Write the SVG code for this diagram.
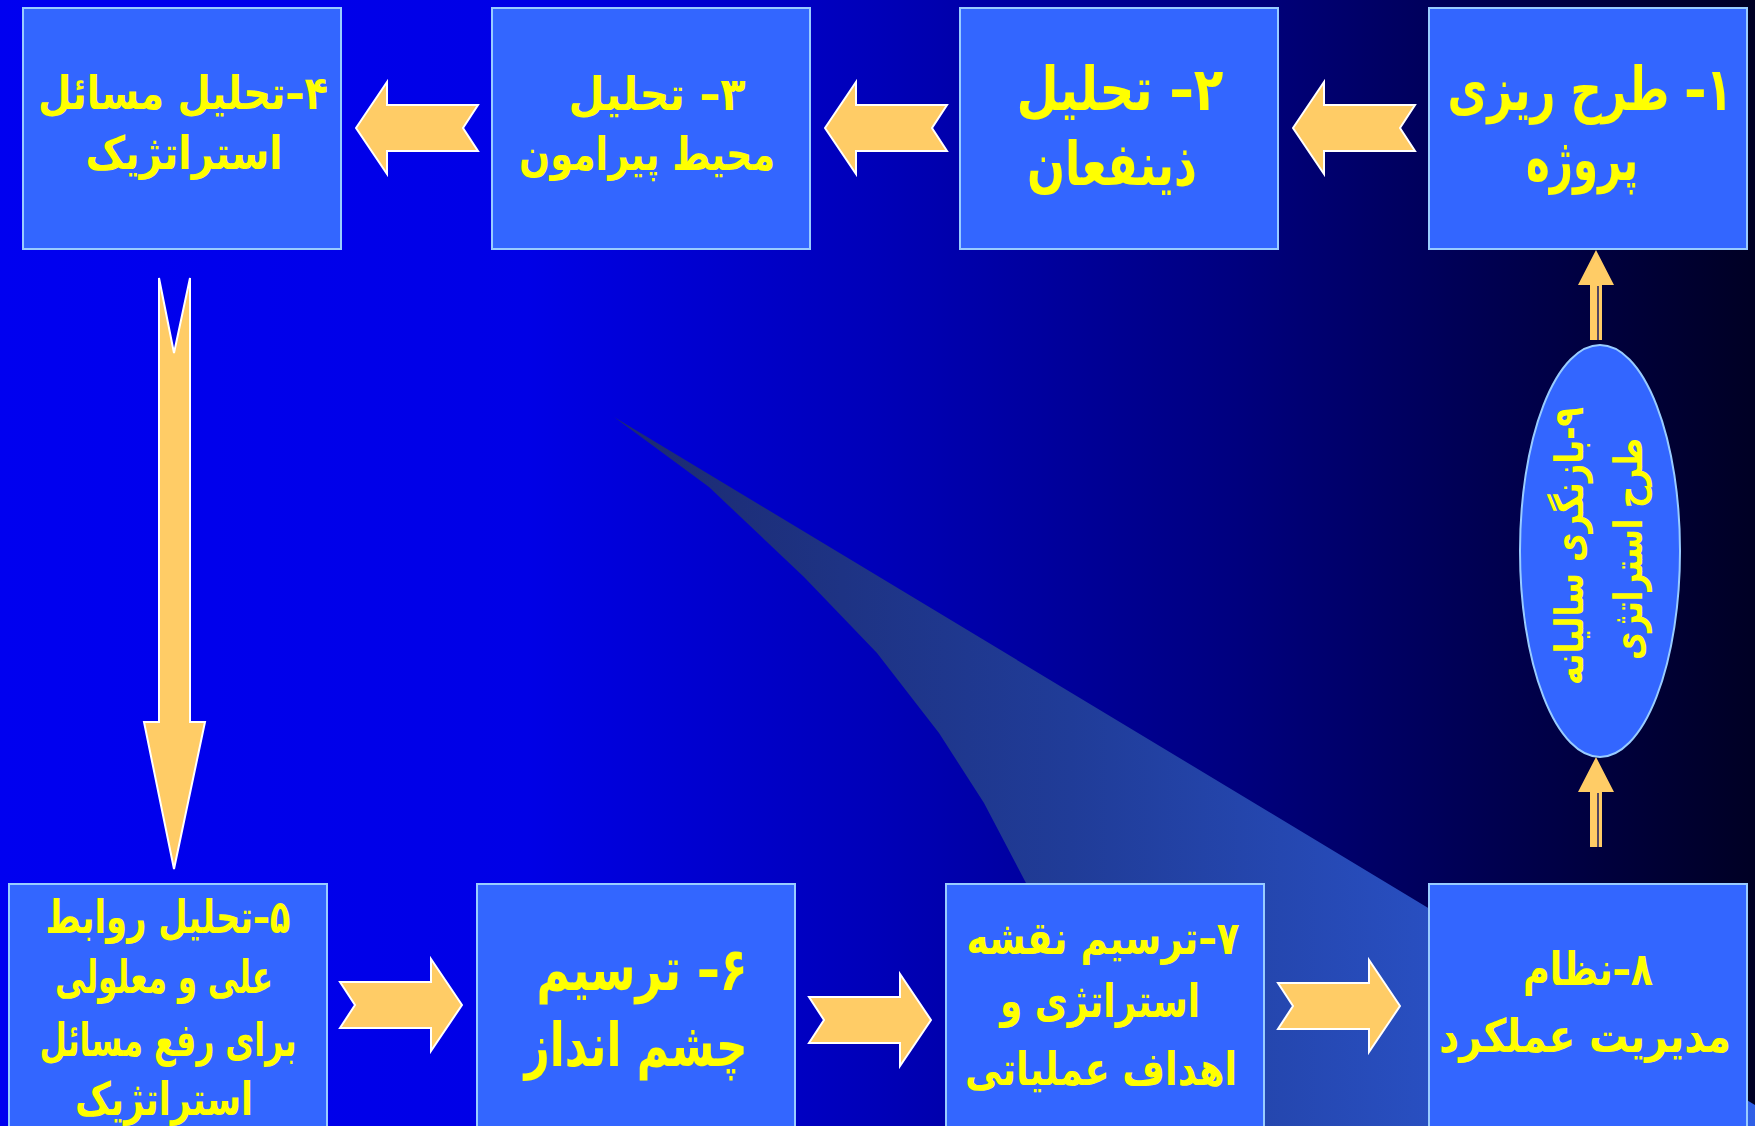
<svg xmlns="http://www.w3.org/2000/svg" width="1755" height="1126" viewBox="0 0 1755 1126">
<defs>
<linearGradient id="bg" x1="0" y1="0" x2="1755" y2="0" gradientUnits="userSpaceOnUse">
<stop offset="0" stop-color="#0000F0"/>
<stop offset="0.3" stop-color="#0000E6"/>
<stop offset="0.5" stop-color="#0000B8"/>
<stop offset="0.7" stop-color="#000080"/>
<stop offset="0.85" stop-color="#000050"/>
<stop offset="1" stop-color="#000024"/>
</linearGradient>
<linearGradient id="beam" x1="614" y1="0" x2="1755" y2="0" gradientUnits="userSpaceOnUse">
<stop offset="0" stop-color="#1C2A70"/>
<stop offset="0.4" stop-color="#203C98"/>
<stop offset="1" stop-color="#3060E6"/>
</linearGradient>
<polygon id="arrL" points="0,0 31,-46 31,-23 122,-23 107,0 122,23 31,23 31,46"/>
<polygon id="arrR" points="0,0 -31,-46 -31,-23 -122,-23 -107,0 -122,23 -31,23 -31,46"/>
<g id="arrUp">
<polygon points="0,0 18,35 6,35 6,90 -6,90 -6,35 -18,35"/>
<line x1="2" y1="36" x2="2" y2="90" stroke="#1A1A60" stroke-width="1.5"/>
</g>
</defs>
<style>
.box{fill:#3366FF;stroke:#99CCFF;stroke-width:2}
.arrow{fill:#FFCC66;stroke:#FFFFFF;stroke-width:2;stroke-linejoin:miter}
.arrow2{fill:#FFCC66}
.t{font-family:"DejaVu Sans",sans-serif;font-weight:bold;fill:#FFFF00;text-anchor:middle;direction:rtl}
</style>
<rect x="0" y="0" width="1755" height="1126" fill="url(#bg)"/>
<path d="M614,417 L1755,1105 L1755,1126 L1110,1126 L1060,990 L1026,883 L984,803 L939,733 L877,653 L804,577 L709,487 Z" fill="url(#beam)"/>

<g id="connectors">
<use href="#arrL" class="arrow" transform="translate(356,128)"/>
<use href="#arrL" class="arrow" transform="translate(825,128)"/>
<use href="#arrL" class="arrow" transform="translate(1293,128)"/>
<polygon class="arrow" points="159,278 174,353 190,278 190,722 205,722 174,869 144,722 159,722"/>
<use href="#arrR" class="arrow" transform="translate(462,1005)"/>
<use href="#arrR" class="arrow" transform="translate(931,1020)"/>
<use href="#arrR" class="arrow" transform="translate(1400,1006)"/>
<use href="#arrUp" class="arrow2" transform="translate(1596,250)"/>
<use href="#arrUp" class="arrow2" transform="translate(1596,757)"/>
</g>

<g id="n1">
<rect class="box" x="1429" y="8" width="318" height="241"/>
<text class="t" font-size="44" transform="translate(1590,110) scale(1,1.364)" textLength="285" lengthAdjust="spacingAndGlyphs">۱– طرح ریزی</text>
<text class="t" font-size="40" transform="translate(1582,180) scale(1,1.5)" textLength="112" lengthAdjust="spacingAndGlyphs">پروژه</text>
</g>
<g id="n2">
<rect class="box" x="960" y="8" width="318" height="241"/>
<text class="t" font-size="49" transform="translate(1120,110) scale(1,1.224)" textLength="207" lengthAdjust="spacingAndGlyphs">۲– تحلیل</text>
<text class="t" font-size="45" transform="translate(1112,185) scale(1,1.333)" textLength="170" lengthAdjust="spacingAndGlyphs">ذینفعان</text>
</g>
<g id="n3">
<rect class="box" x="492" y="8" width="318" height="241"/>
<text class="t" font-size="42" transform="translate(657,110) scale(1,1.095)" textLength="177" lengthAdjust="spacingAndGlyphs">۳– تحلیل</text>
<text class="t" font-size="37" transform="translate(647,170) scale(1,1.243)" textLength="256" lengthAdjust="spacingAndGlyphs">محیط پیرامون</text>
</g>
<g id="n4">
<rect class="box" x="23" y="8" width="318" height="241"/>
<text class="t" font-size="39" transform="translate(183,109) scale(1,1.18)" textLength="290" lengthAdjust="spacingAndGlyphs">۴–تحلیل مسائل</text>
<text class="t" font-size="39" transform="translate(184,169) scale(1,1.18)" textLength="197" lengthAdjust="spacingAndGlyphs">استراتژیک</text>
</g>
<g id="n5">
<rect class="box" x="9" y="884" width="318" height="260"/>
<text class="t" font-size="34" transform="translate(168,933) scale(1,1.353)" textLength="245" lengthAdjust="spacingAndGlyphs">۵–تحلیل روابط</text>
<text class="t" font-size="32" transform="translate(164,993) scale(1,1.44)" textLength="218" lengthAdjust="spacingAndGlyphs">علی و معلولی</text>
<text class="t" font-size="32" transform="translate(168,1056) scale(1,1.44)" textLength="257" lengthAdjust="spacingAndGlyphs">برای رفع مسائل</text>
<text class="t" font-size="36" transform="translate(164,1115) scale(1,1.28)" textLength="178" lengthAdjust="spacingAndGlyphs">استراتژیک</text>
</g>
<g id="n6">
<rect class="box" x="477" y="884" width="318" height="260"/>
<text class="t" font-size="46" transform="translate(642,990) scale(1,1.304)" textLength="211" lengthAdjust="spacingAndGlyphs">۶– ترسیم</text>
<text class="t" font-size="44" transform="translate(636,1066) scale(1,1.364)" textLength="223" lengthAdjust="spacingAndGlyphs">چشم انداز</text>
</g>
<g id="n7">
<rect class="box" x="946" y="884" width="318" height="260"/>
<text class="t" font-size="37" transform="translate(1103,954) scale(1,1.243)" textLength="273" lengthAdjust="spacingAndGlyphs">۷–ترسیم نقشه</text>
<text class="t" font-size="36" transform="translate(1100,1017) scale(1,1.278)" textLength="200" lengthAdjust="spacingAndGlyphs">استراتژی و</text>
<text class="t" font-size="37" transform="translate(1101,1085) scale(1,1.243)" textLength="272" lengthAdjust="spacingAndGlyphs">اهداف عملیاتی</text>
</g>
<g id="n8">
<rect class="box" x="1429" y="884" width="318" height="260"/>
<text class="t" font-size="37" transform="translate(1588,985) scale(1,1.243)" textLength="130" lengthAdjust="spacingAndGlyphs">۸–نظام</text>
<text class="t" font-size="39" transform="translate(1585,1052) scale(1,1.18)" textLength="292" lengthAdjust="spacingAndGlyphs">مدیریت عملکرد</text>
</g>
<g id="n9">
<ellipse cx="1600" cy="551" rx="80" ry="206" fill="#3366FF" stroke="#99CCFF" stroke-width="2"/>
<g transform="translate(1600,551) rotate(-90)">
<text class="t" font-size="32" transform="translate(5,-17) scale(1,1.25)" textLength="278" lengthAdjust="spacingAndGlyphs">۹-بازنگری سالیانه</text>
<text class="t" font-size="31" transform="translate(2,42) scale(1,1.29)" textLength="222" lengthAdjust="spacingAndGlyphs">طرح استراتژی</text>
</g>
</g>
</svg>
